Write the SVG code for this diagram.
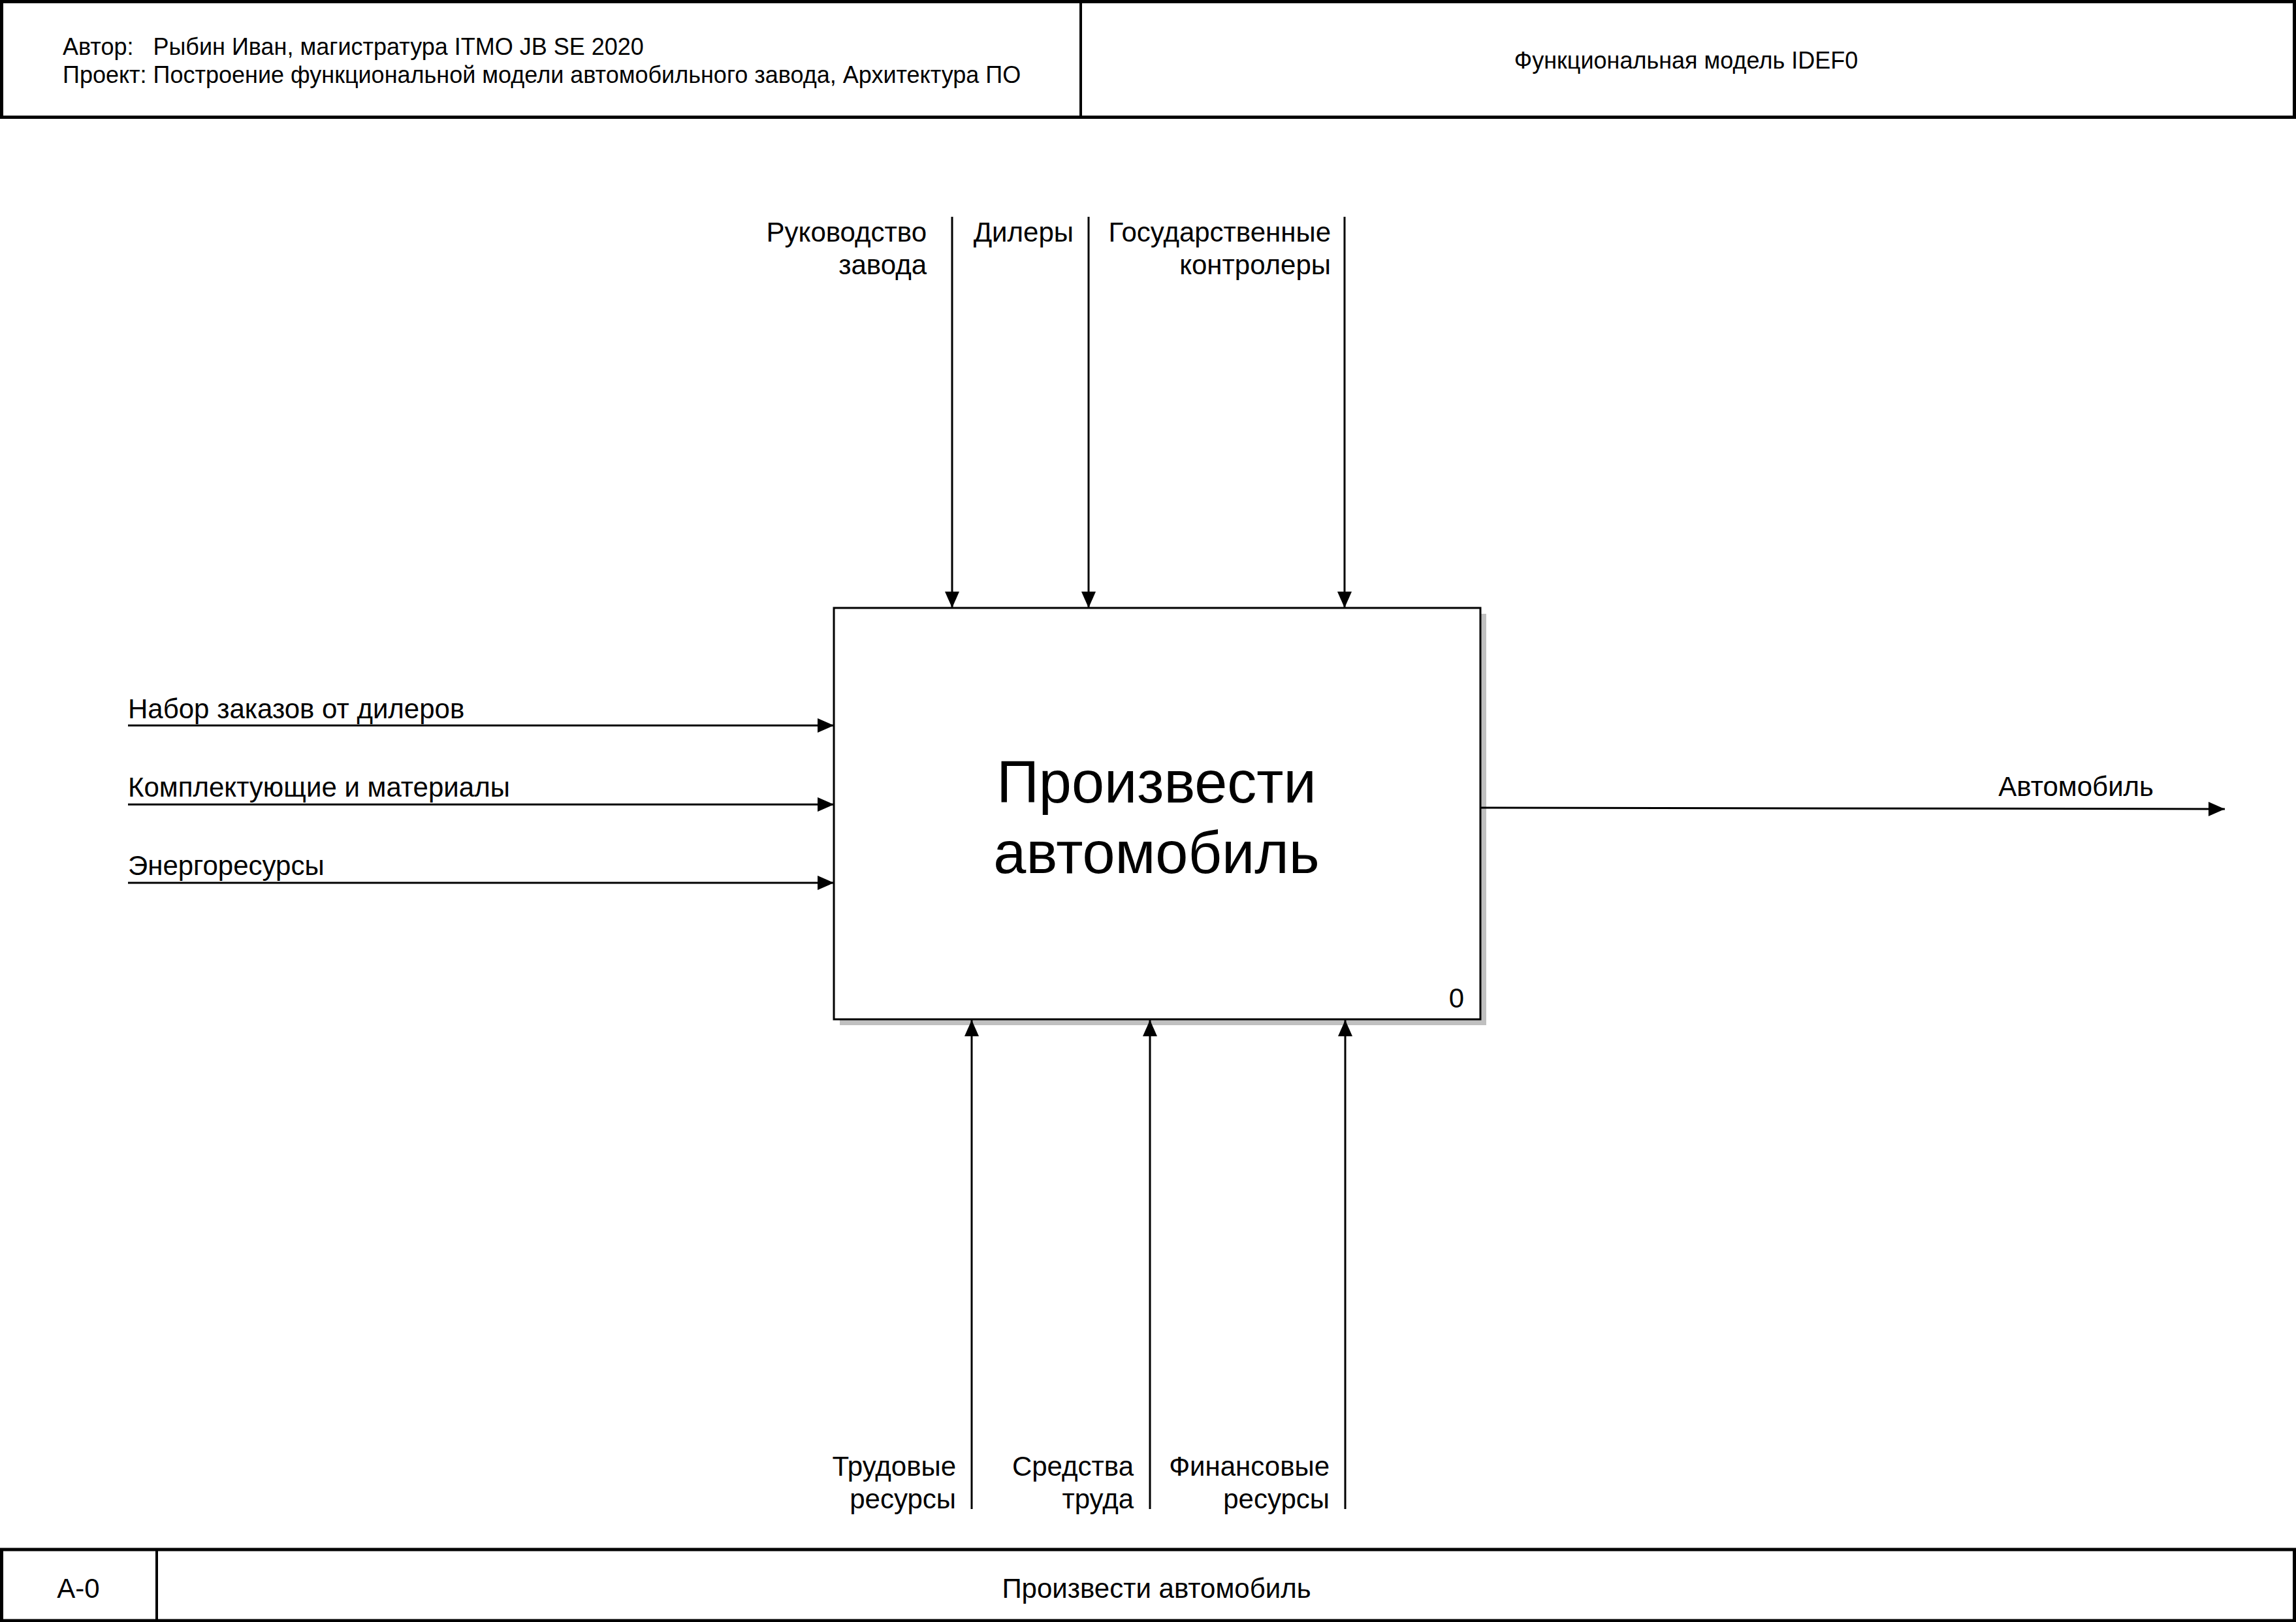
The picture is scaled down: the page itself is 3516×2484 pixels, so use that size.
<svg xmlns="http://www.w3.org/2000/svg" width="3516" height="2484" viewBox="0 0 3516 2484">
<style>
text{font-family:"Liberation Sans",Arial,sans-serif;fill:#000}
.hdr{font-size:36px}
.lbl{font-size:42px}
.big{font-size:90px}
.frame{fill:#fff;stroke:#000;stroke-width:5}
.div{stroke:#000;stroke-width:4}
.conn{stroke:#000;stroke-width:3;fill:none;marker-end:url(#arr)}
</style>
<defs>
<marker id="arr" markerUnits="userSpaceOnUse" markerWidth="26" markerHeight="24" refX="25" refY="11" orient="auto" viewBox="0 0 26 24">
<path d="M0,0 L25,11 L0,22 z" fill="#000"/>
</marker>
</defs>
<rect width="3516" height="2484" fill="#fff"/>
<g id="header">
<rect class="frame" x="2.5" y="2.5" width="3511" height="177"/>
<line class="div" x1="1655" y1="2" x2="1655" y2="180"/>
<text class="hdr" x="96" y="84" xml:space="preserve">Автор:   Рыбин Иван, магистратура ITMO JB SE 2020</text>
<text class="hdr" x="96" y="127">Проект: Построение функциональной модели автомобильного завода, Архитектура ПО</text>
<text class="hdr" x="2582" y="105" text-anchor="middle">Функциональная модель IDEF0</text>
</g>
<g id="footer">
<rect class="frame" x="2.5" y="2373" width="3511" height="109"/>
<line class="div" x1="240" y1="2373" x2="240" y2="2482"/>
<text class="lbl" x="120" y="2447" text-anchor="middle">A-0</text>
<text class="lbl" x="1771" y="2447" text-anchor="middle">Произвести автомобиль</text>
</g>
<g id="node-A0">
<rect x="1286" y="940" width="990" height="630" fill="#c0c0c0"/>
<rect x="1277" y="931" width="990" height="630" fill="#fff" stroke="#000" stroke-width="3"/>
<text class="big" x="1771" y="1229" text-anchor="middle">Произвести</text>
<text class="big" x="1771" y="1337" text-anchor="middle">автомобиль</text>
<text class="lbl" x="2242" y="1543" text-anchor="end">0</text>
</g>
<g id="connectors">
<line class="conn" x1="1458" y1="332" x2="1458" y2="931"/>
<line class="conn" x1="1667" y1="332" x2="1667" y2="931"/>
<line class="conn" x1="2059" y1="332" x2="2059" y2="931"/>
<line class="conn" x1="1488" y1="2311" x2="1488" y2="1562"/>
<line class="conn" x1="1761" y1="2311" x2="1761" y2="1562"/>
<line class="conn" x1="2060" y1="2311" x2="2060" y2="1562"/>
<line class="conn" x1="196" y1="1111" x2="1277" y2="1111"/>
<line class="conn" x1="196" y1="1232" x2="1277" y2="1232"/>
<line class="conn" x1="196" y1="1352" x2="1277" y2="1352"/>
<line class="conn" x1="2267" y1="1237" x2="3407" y2="1239"/>
</g>
<g id="labels">
<text class="lbl" x="1419" y="370" text-anchor="end">Руководство</text>
<text class="lbl" x="1419" y="420" text-anchor="end">завода</text>
<text class="lbl" x="1644" y="370" text-anchor="end">Дилеры</text>
<text class="lbl" x="2038" y="370" text-anchor="end">Государственные</text>
<text class="lbl" x="2038" y="420" text-anchor="end">контролеры</text>
<text class="lbl" x="196" y="1100">Набор заказов от дилеров</text>
<text class="lbl" x="196" y="1220">Комплектующие и материалы</text>
<text class="lbl" x="196" y="1340">Энергоресурсы</text>
<text class="lbl" x="3298" y="1219" text-anchor="end">Автомобиль</text>
<text class="lbl" x="1464" y="2260" text-anchor="end">Трудовые</text>
<text class="lbl" x="1464" y="2310" text-anchor="end">ресурсы</text>
<text class="lbl" x="1736" y="2260" text-anchor="end">Средства</text>
<text class="lbl" x="1736" y="2310" text-anchor="end">труда</text>
<text class="lbl" x="2036" y="2260" text-anchor="end">Финансовые</text>
<text class="lbl" x="2036" y="2310" text-anchor="end">ресурсы</text>
</g>
</svg>
